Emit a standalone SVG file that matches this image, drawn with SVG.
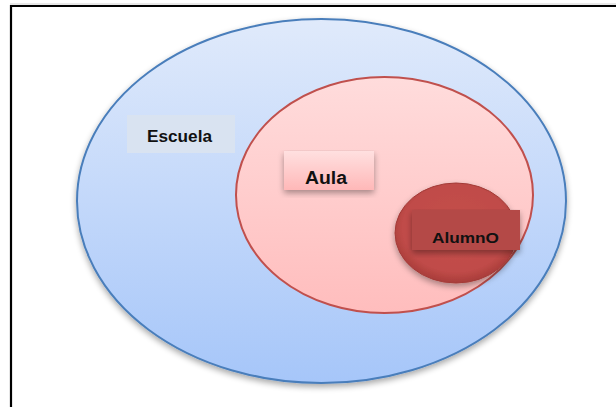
<svg xmlns="http://www.w3.org/2000/svg" width="616" height="407" viewBox="0 0 616 407">
<defs>
<linearGradient id="gBlue" x1="0" y1="0" x2="0" y2="1"><stop offset="0" stop-color="#e0eafb"/><stop offset="1" stop-color="#a6c6f9"/></linearGradient>
<linearGradient id="gPink" x1="0" y1="0" x2="0" y2="1"><stop offset="0" stop-color="#ffdcdc"/><stop offset="1" stop-color="#ffbdbd"/></linearGradient>
<radialGradient id="gRed" cx="0.5" cy="0.45" r="0.55"><stop offset="0" stop-color="#c4504c"/><stop offset="0.8" stop-color="#c04b48"/><stop offset="1" stop-color="#a83c3a"/></radialGradient>
<linearGradient id="gAula" x1="0" y1="0" x2="0" y2="1"><stop offset="0" stop-color="#ffe0e0"/><stop offset="1" stop-color="#ffb8b8"/></linearGradient>
<filter id="sh" x="-10%" y="-10%" width="120%" height="130%"><feGaussianBlur in="SourceAlpha" stdDeviation="3"/><feOffset dx="0" dy="3"/><feComponentTransfer><feFuncA type="linear" slope="0.35"/></feComponentTransfer><feMerge><feMergeNode/><feMergeNode in="SourceGraphic"/></feMerge></filter>
</defs>
<style>
text{font-family:"Liberation Sans",Arial,sans-serif;font-weight:bold;fill:#111;}
</style>
<rect width="616" height="407" fill="#fff"/>
<line x1="10" y1="4" x2="616" y2="4" stroke="#d0d0d0" stroke-width="1"/>
<path d="M11 407 V6 H616" fill="none" stroke="#000" stroke-width="2.2"/>
<g id="escuela">
<ellipse cx="321.5" cy="201" rx="244.5" ry="182" fill="url(#gBlue)" stroke="#4a7ebb" stroke-width="2" filter="url(#sh)"/>
<rect x="127" y="115" width="108" height="38" fill="#d9e3f1"/>
<text x="147" y="142" font-size="16.5" textLength="65" lengthAdjust="spacingAndGlyphs">Escuela</text>
</g>
<g id="aula">
<ellipse cx="384.5" cy="195" rx="148.5" ry="118" fill="url(#gPink)" stroke="#c0504d" stroke-width="2"/>
<rect x="284" y="151" width="90" height="39" fill="url(#gAula)" filter="url(#sh)"/>
<text x="305" y="184" font-size="17.5" textLength="42" lengthAdjust="spacingAndGlyphs">Aula</text>
</g>
<g id="alumno">
<ellipse cx="456" cy="233" rx="61" ry="50" fill="url(#gRed)" stroke="#a33c39" stroke-width="1" filter="url(#sh)"/>
<rect x="412" y="210" width="108" height="40" fill="#b44a47" filter="url(#sh)"/>
<text x="432" y="243" font-size="15" textLength="67" lengthAdjust="spacingAndGlyphs">AlumnO</text>
</g>
<g id="connectors"/>
</svg>
